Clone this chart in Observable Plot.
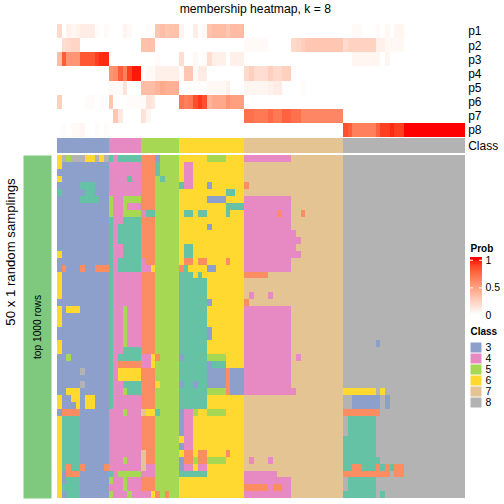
<!DOCTYPE html>
<html>
<head>
<meta charset="utf-8">
<script src="https://cdn.jsdelivr.net/npm/d3@7"></script>
<script src="https://cdn.jsdelivr.net/npm/@observablehq/plot@0.6"></script>
<style>
html,body{margin:0;padding:0;background:#fff}
#chart{position:relative;width:504px;height:504px;overflow:hidden}
#chart svg{position:absolute;overflow:visible;background:transparent}
</style>
</head>
<body>
<div id="chart"></div>
<script>
// Run-length strings: "value*count" expands to count copies
const expand = s => s.trim().split(/\s+/).flatMap(t => {
  const [v, n] = t.split("*");
  return Array(n ? +n : 1).fill(+v);
});

const probNames = ["p1","p2","p3","p4","p5","p6","p7","p8"];
const p1 = ".2 0 .07 .05 .07 .1 .1 .1 .02 0 .03  0*3 .06 .03 0*2  0 .01 .01 .3 .35 .3 .33 .33  .06 0 0 .1 0 .04 .32 .35 .35 .35 .3 .36 .36 .36  0*21  0*2 .03*2 0*3 .03 0 .04 0 .05*2 0*13";
const p2 = "0 .18 .2 .22 .22 0*6  0*7  .33*3 0*5  0*14  .03*5 0*5 .2 .22 .26 .3*8  .2 .24*6 .08*2 .04*4 0*13";
const p3 = ".35 .8 .55 .55 .55 .82 .82 .82 .9 .95 .95  0*7  0*3 .02 0*4  .18 0 0 .04 0 .02 .18 .08 .08 .08 0 .08 .08 .08  0*21  0*2 .05*6 0 .05 0*16";
const p4 = "0*11  .55 .6 .8 .65 .9 .98 .98  0 .03 .03 .08*5  .02 .3 .3 .03 .1 .1 0*8  .2 .25 .18*3 .25 .2*2 .25*2 .02 0*10  0*26";
const p5 = "0*11  .03*3 .15 0*3  .35*3 .4 .45 .42*3  0*3 .01*3 .04*4 .08 0*3  .05*5 .07 .1*2 0*4 .03 0*8  0*26";
const p6 = ".25 0*5 .02*2 0 .02 0  .3 0*3 .02*3  .03 .15 .12 0*5  .7 .65 .68 .85 .92 .85 .4 .45*3 .55 .5*3  0*21  0*26";
const p7 = "0*11  0 .3 .12 0*4  .15 .05 0*6  0*14  .72*2 .68*3 .75 .68*2 .78*2 .72*2 .62*9  0*26";
const p8 = "0 .02 0 .03 .03 .05 0 0 .02 0 .02  0*7  0*8  0*14  0*21  .85 .8 .65*5 .78 .9*2 .95 .9*2 1*13";
const probRows = [p1,p2,p3,p4,p5,p6,p7,p8];

const columnClass = "3*11 4*7 5*8 6*14 7*21 8*26";

const legendClasses = [3,4,5,6,7,8];
const classIds = [1,2,3,4,5,6,7,8];
const classColors = ["#66C2A5","#FC8D62","#8DA0CB","#E78AC3","#A6D854","#FFD92F","#E5C494","#B3B3B3"];

// 50 sampling rows, 87 columns of predicted class
const samplingRows = [
"6 8 5 8*3 6*2 8 6 8  1 4 1*5  2*3 3 5*4  6*6 5*4 6*4  4*10 7*11  8*26",
"6 3*10  4*7  2*3 1 5*4  6 4*2 6*11  7*21  8*26",
"3*11  4*7  2*3 1 5*4  6 4*2 6*11  7*21  8*26",
"6 3*10  4*4 1 4*2  2*3 5 1 5*3  6 4*2 6*11  7*21  8*26",
"3*5 1*3 3*3  4*7  2*3 5*5  1 4*2 6*3 3 6*7  2 7*20  8*26",
"1 3*5 1*2 3*3  4*7  2*3 5*5  6*10 1*2 6*2  7*21  8*26",
"3*5 1*4 3*2  5 4*2 5*4  2*3 5*5  6*6 3*4 6*4  4*10 7*11  8*26",
"3*11  5 4*2 5 4*3  2*3 5*5  6*10 1*4  4*10 7*11  8*26",
"3*11  5 4*2 5*4  4 1*2 5*5  6 1*2 6 1*2 6*4 1 6*3  4*7 2 4*2 7*2 2 7*8  8*26",
"3*11  1 4*2 1*4  2*3 5*5  6*14  4*10 7*11  8*26",
"3*11  1 4 1*5  2*3 5*5  6*6 3 6*7  4*10 7*11  8*26",
"3*11  1 4 1*5  2*3 5*5  6*14  4*11 7*10  8*26",
"3*11  1 4 1*5  2*3 5*5  6*14  4*12 7*9  8*26",
"3*11  1 4*2 1*4  2*3 5*5  6 1*2 6*11  4*11 7*10  8*26",
"6 3*10  1 4*2 1*4  2*3 5*5  6 1*2 6*11  4*12 7*9  8*26",
"3*11  1 4 1*5  4 2*2 5*5  6 2*2 6 2*2 6*4 2 6*3  4*10 7*11  8*26",
"3 2 3*3 2 3*2 2*3  1 4 1*5  4*2 6 5*5  2 1 6*4 3*2 6*6  4*10 7*11  8*26",
"6 3*10  1 4*6  2*3 5*5  1*3 6 1 6*9  2*5 7*16  8*26",
"6 3*10  1 4*6  2*3 5*5  1*6 6*8  7*21  8*26",
"6 3*10  1 4*6  2*3 5*5  1*6 6*8  7*21  8*26",
"6 3*10  1 4*6  2*3 5*5  1*6 6*8  7 4 7*3 4 7*15  8*26",
"3*11  1 4*6  2*3 5*5  1*6 3 6*7  2 7*20  8*26",
"6 3 6*3 3*6  1 4*2 5 4*3  2*3 5*5  1*6 6*8  4*10 7*11  8*26",
"6 3*10  1 4*2 5 4*3  2*3 5*5  1*6 6*8  4*10 7*11  8*26",
"6 3*10  1 4*2 5 4*3  2*3 5*5  1*6 6*8  4*10 7*11  8*26",
"3*11  1 4*2 5 4*3  2*3 5*5  1*6 3 6*7  4*10 7*11  8*26",
"3*11  1 4*2 5 4*3  2*3 5*5  1*6 3 6*7  4*10 7*11  8*26",
"6 3*10  1 4*2 5 4*3  2*3 5*5  1*6 6*8  4*10 7*11  8*7 3 8*18",
"6 3*10  1 4*2 1*4  2*3 5*5  1*6 6*8  4*10 7*11  8*26",
"3*2 5 3*8  1 4 1*5  4*2 6 2 5*4  3 1*5 5*4 6*4  4*10 7 4 7*9  8*26",
"3*11  1 4 2*5  4*2 6 5*5  1*6 3 1*3 6*4  4*10 7*11  8*26",
"3*5 8 3*5  1 4 6*5  2*3 5*5  1*6 3*4 2 3*3  4*10 7*11  8*26",
"3*11  1 4 6*5  2*3 5*5  1*6 3*4 2 3*3  4*10 7*11  8*26",
"3*5 8 3*5  1 4*2 1*4  2*3 6 5*4  3 1*2 3 1*2 3*4 2 3*3  4*10 7*11  8*26",
"3*2 6*3 3*6  1 4*2 5 1*3  2*3 5*5  1*6 5*4 2 3*3  4*11 7*10  6*7 8 6 8*17",
"6 3*2 6*2 3 6*2 3*3  1 4*6  2*3 5*5  1*6 6*8  7*21  8*2 3*6 8 3 8*16",
"6 3*3 6 3 6*2 3*3  1 4*6  2*3 5*5  1*6 6*8  7*21  8*2 3*6 8 3 8*16",
"3 2*4 3*6  4*3 5 4*3  7 6*2 1 5*4  3 4*2 5 6*2 5*4 6*4  7*21  2*8 8*18",
"6 1*4 3*6  4*7  2*3 5*5  3 4*2 6*11  7*21  8 1*6 8*19",
"6 1*4 3*6  4*7  2*3 5*5  3 4*2 6*11  7*21  8 1*6 8*19",
"6 1*4 3*6  4*7  2*3 5*5  3 4*2 6*11  7*21  8 1*6 8*19",
"6 1*4 3*6  4*7  2*3 5*5  6 4*2 6*11  7*21  1*7 8*19",
"6 1*4 3*6  4*7  2*3 5*5  3 4*2 6*11  7*21  1*7 8*19",
"6 1*4 3*6  4*7  7 2*2 5*5  6 2*2 6 2*2 6*4 2 6*3  7*21  1*7 8*19",
"6 1*4 3*6  4*3 5 4*3  7 2*2 5*5  3 2*2 5 2*2 5*4 6*4  7 4 7*3 4 7*15  1*8 8*18",
"6 1 2 1*2 2 3*4 2  4*7  7 4*2 5*5  3 4*2 6 4*2 6*8  7*21  1*2 2*2 1*3 2 1 2 1 2*2 8*13",
"6 3 2*3 3*6  1 4 5*5  4*3 5*5  1*6 6*8  4*7 7*14  2*10 8 2*2 8*13",
"6 3 1*3 3*6  5 4*2 5 4*3  2*3 5*5  6*14  4*10 7*11  8 1*6 8*19",
"6 1*4 3*6  4*3 5 4*3  2*3 5*5  6*14  2*5 4 2*2 4*2 7*11  8 1*6 8*19",
"6 3 1*3 3*6  5 4*3 5 4*2  4*2 6 2 5 2 5*2  6*14  4*10 7*11  1*7 8 1 8*17"
];

const columns = d3.range(87);
const rowIds = d3.range(50);
const font = "'Liberation Sans', Arial, sans-serif";
const chart = document.getElementById("chart");
function add(svg, top, left = 0){ svg.style.top = top + "px"; svg.style.left = left + "px"; chart.appendChild(svg); }

const probColor = {type:"linear", domain:[0,1], range:["white","red"], interpolate:d3.interpolateLab};
const classColor = {type:"ordinal", domain:classIds, range:classColors};
const xBand = {type:"band", domain:columns, padding:0, round:false, axis:null};
const panelLeft = 57.05, panelRight = 39.35;

// Probability heatmap
const probData = probRows.flatMap((r,i)=>expand(r).map((v,c)=>({name:probNames[i],col:c,v})));
add(Plot.plot({
  width:504, height:137, marginTop:24, marginBottom:0, marginLeft:panelLeft, marginRight:panelRight,
  style:{fontFamily:font, fontSize:"12px", color:"#000", background:"transparent"},
  x:xBand,
  y:{type:"band", domain:probNames, padding:0, round:false, label:null},
  color:probColor,
  marks:[
    Plot.cell(probData,{x:"col",y:"name",fill:"v",shapeRendering:"crispEdges"}),
    Plot.axisY({anchor:"right",tickSize:0,tickPadding:3,label:null,fontSize:12}),
    Plot.text(["membership heatmap, k = 8"],{frameAnchor:"top",dx:-6,dy:-20,fontSize:12.2,fill:"#000"})
  ]
}),0);

// Class annotation bar
add(Plot.plot({
  width:504, height:15, margin:0, marginLeft:panelLeft, marginRight:panelRight,
  style:{fontFamily:font, fontSize:"12px", color:"#000", background:"transparent"},
  x:xBand,
  y:{type:"band", domain:["Class"], padding:0, round:false, label:null},
  color:classColor,
  marks:[
    Plot.cell(expand(columnClass).map((k,c)=>({col:c,k,name:"Class"})),{x:"col",y:"name",fill:"k",shapeRendering:"crispEdges"}),
    Plot.axisY({anchor:"right",tickSize:0,tickPadding:3,label:null,fontSize:12})
  ]
}),138);

// Main sampling matrix
const matrix = samplingRows.flatMap((r,j)=>expand(r).map((k,c)=>({row:j,col:c,k})));
add(Plot.plot({
  width:504, height:343, margin:0, marginLeft:panelLeft, marginRight:panelRight,
  style:{fontFamily:font, background:"transparent"},
  x:xBand,
  y:{type:"band", domain:rowIds, padding:0, round:false, axis:null},
  color:classColor,
  marks:[Plot.cell(matrix,{x:"col",y:"row",fill:"k",shapeRendering:"crispEdges"})]
}),155);

// Left block annotation
add(Plot.plot({
  width:60, height:343, margin:0, marginLeft:23, marginRight:9,
  style:{fontFamily:font, background:"transparent"},
  x:{axis:null}, y:{axis:null},
  marks:[
    Plot.frame({fill:"#7FC97F",stroke:"none"}),
    Plot.text(["top 1000 rows"],{frameAnchor:"middle",rotate:-90,fontSize:10.2,fill:"#000"}),
    Plot.text(["50 x 1 random samplings"],{frameAnchor:"left",textAnchor:"middle",dx:-13,dy:-75,rotate:-90,fontSize:13.2,fill:"#000"})
  ]
}),155);

// Prob legend
const rampSteps = d3.range(0,105).map(i=>i/100);
add(Plot.plot({
  width:34, height:76, marginTop:17, marginBottom:1, marginLeft:0, marginRight:22,
  style:{fontFamily:font, fontSize:"10px", color:"#000", background:"transparent"},
  x:{domain:[0,1],axis:null},
  y:{domain:[0,1.05],axis:null},
  color:probColor,
  marks:[
    Plot.rect(rampSteps,{x1:0,x2:1,y1:d=>d,y2:d=>d+0.0101,fill:d=>Math.min(d,1),shapeRendering:"crispEdges"}),
    Plot.ruleY([0.5,1],{x1:0,x2:0.25,stroke:"#fff"}),
    Plot.ruleY([0.5,1],{x1:0.75,x2:1,stroke:"#fff"}),
    Plot.axisY([0,0.5,1],{anchor:"right",tickSize:0,tickPadding:3,label:null,fontSize:10.5,tickFormat:d=>String(d)}),
    Plot.text(["Prob"],{frameAnchor:"top-left",dy:-13,fontSize:10,fontWeight:"bold",fill:"#000"})
  ]
}),240,470);

// Class legend
add(Plot.plot({
  width:34, height:81, marginTop:15, marginBottom:0, marginLeft:0, marginRight:22,
  style:{fontFamily:font, fontSize:"10px", color:"#000", background:"transparent"},
  x:{type:"band",domain:["swatch"],padding:0,axis:null},
  y:{type:"band",domain:legendClasses,padding:0,round:false,axis:null},
  color:classColor,
  marks:[
    Plot.cell(legendClasses,{x:()=>"swatch",y:d=>d,fill:d=>d,inset:0.5}),
    Plot.axisY({anchor:"right",tickSize:0,tickPadding:3,label:null,fontSize:10.5}),
    Plot.text(["Class"],{frameAnchor:"top-left",dy:-15,fontSize:10,fontWeight:"bold",fill:"#000"})
  ]
}),327,470);
</script>
</body>
</html>
